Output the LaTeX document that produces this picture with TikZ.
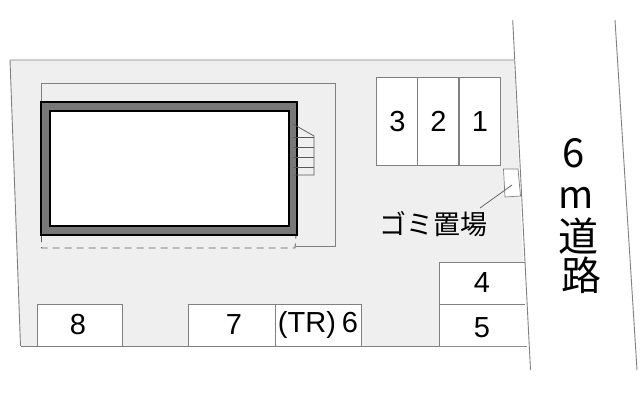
\documentclass[tikz,border=0pt]{standalone}
\usepackage{fontspec}
\setmainfont{Liberation Sans}
\newfontfamily\jpfont{Noto Sans CJK JP}
\usepackage{tikz}
\usetikzlibrary{positioning}
\definecolor{sitegray}{HTML}{EFEFEF}
\definecolor{linegray}{HTML}{808080}
\definecolor{wallgray}{HTML}{787878}

\begin{document}
\begin{tikzpicture}[
    x = 1pt,
    y = -1pt,
    every node/.style={
        inner sep = 0pt,
        outer sep = 0pt
    },
    thin line/.style={
        draw = linegray,
        line width = 0.9pt
    },
    bay/.style={
        thin line,
        fill = white,
        minimum height = 42pt,
        font = \fontsize{29}{29}\selectfont
    },
    tall bay/.style={
        thin line,
        fill = white,
        minimum width = 41pt,
        minimum height = 88.5pt,
        font = \fontsize{29}{29}\selectfont
    },
    plain/.style={
        font = \fontsize{29}{29}\selectfont
    },
    road/.style={
        font = \fontsize{40}{40}\selectfont\jpfont
    }
    ]
\useasboundingbox (0,0) rectangle (640,400);

% site
\fill[sitegray] (10,60) -- (514,60) -- (527,346) -- (20.5,346) -- cycle;
\draw[thin line] (20.5,346) -- (10,60) -- (514,60);
\draw[thin line] (20.5,346) -- (527,346);

% parking 4 and 5
\fill[white] (524.5,262) -- (439,262) -- (439,346) -- (527,346) -- cycle;
\draw[thin line] (524.5,262) -- (439,262) -- (439,346);
\draw[thin line] (439,304) -- (525,304);

% road
\draw[thin line] (512.7,20) -- (530.5,370);
\draw[thin line] (615,20) -- (637,370);

% carport line round the building
\draw[thin line, line width = 0.7pt] (41.5,101) -- (41.5,83) -- (335.5,83) -- (335.5,246.5) -- (296,246.5);
\draw[thin line, draw = black!65, line width = 0.9pt, dash pattern = on 7pt off 5pt] (41.5,235) -- (41.5,248) -- (295,248) -- (296,235);

% building
\draw[black, fill = wallgray, line width = 2pt] (41,102) rectangle (297,235);
\draw[black, fill = white, line width = 2pt] (49.5,110.5) rectangle (288.5,225.5);

% stairs
\draw[thin line, draw = black!65, line width = 0.7pt] (293,124) -- (314,136) -- (314,175) -- (293,175);
\foreach \ay in {137,147,157,167}
    \draw[thin line, draw = black!65, line width = 0.7pt] (293,\ay) -- (314,\ay);

% parking 1 to 3
\foreach \ax/\an in {397/3,438/2,479.5/1}
    \node[tall bay] (bay\an) at (\ax,121.2) {\hspace{1pt}\an};

% parking 6 to 8
\node[bay, minimum width = 85pt] (bay8) at (79.5,325) {\hspace{-3pt}8};
\node[bay, minimum width = 87pt] (bay7) at (231.5,325) {\hspace{5pt}7};
\node[bay, minimum width = 86pt, right = 0pt of bay7] (bay6) {(TR)\hspace{6pt}6};

\node[plain] (bay4) at (482,283) {4};
\node[plain] (bay5) at (482,328) {5};

% garbage place
\filldraw[thin line, line width = 0.7pt, fill = white] (503.5,169) -- (518,169) -- (520.5,196) -- (505,197) -- cycle;
\node[font = \fontsize{27}{27}\selectfont\jpfont] (garbage) at (433,224) {ゴミ置場};
\coordinate (garbagein) at (512,185);
\coordinate (garbageout) at (480,208);
\draw[draw = black!65, line width = 0.7pt] (garbageout) -- (garbagein);

% road width
\node[road] (six) at (574,153) {6};
\node[road, font = \fontsize{38}{38}\selectfont\jpfont] (metre) at (576,198) {m};
\node[road] (dou) at (578,236) {道};
\node[road] (ro) at (581,275) {路};
\end{tikzpicture}
\end{document}
